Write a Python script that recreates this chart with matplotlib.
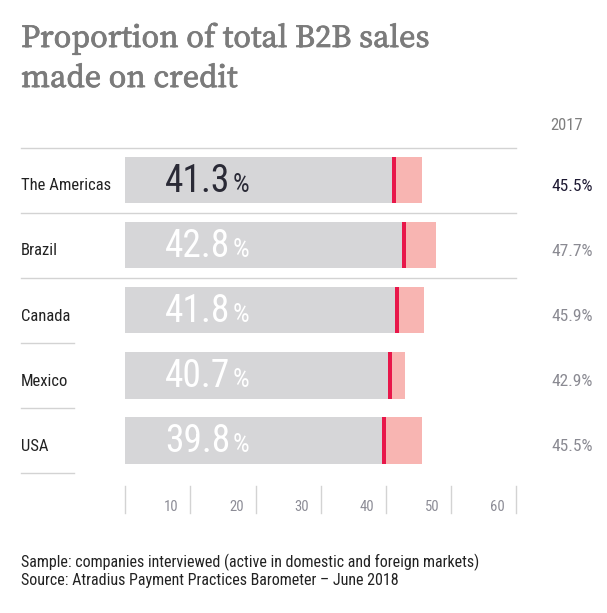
import matplotlib
matplotlib.use("Agg")
import matplotlib.pyplot as plt
import matplotlib.patheffects as pe

# data
regions = ['The Americas', 'Brazil', 'Canada', 'Mexico', 'USA']
share_2018 = [41.3, 42.8, 41.8, 40.7, 39.8]
share_2017 = [45.5, 47.7, 45.9, 42.9, 45.5]
ticks = [10, 20, 30, 40, 50, 60]

narrow = ['Roboto Condensed', 'DejaVu Sans']
serif = ['Source Serif 4', 'Noto Serif', 'DejaVu Serif']

gray_bar = '#d6d6d8'
pink = '#f8b5b2'
red = '#e8174a'
line_col = '#d3d3d3'
dark = '#1e1a33'
mid = '#8a8a92'

W, H = 607, 613
fig = plt.figure(figsize=(W / 100, H / 100), dpi=100)

def fx(px):
    return px / W

def fy(py):
    return 1 - py / H

# title
for txt, base in [('Proportion of total B2B sales', 47), ('made on credit', 87)]:
    fig.text(fx(21), fy(base), txt, family=serif, fontsize=23.2, color='#7b7b7b',
             va='baseline', ha='left',
             path_effects=[pe.withStroke(linewidth=0.5, foreground='#7b7b7b')])

# footer
fig.text(fx(21), fy(562), 'Sample: companies interviewed (active in domestic and foreign markets)',
         family=narrow, fontsize=11.5, color='#222222', va='center')
fig.text(fx(21), fy(581), 'Source: Atradius Payment Practices Barometer \u2013 June 2018',
         family=narrow, fontsize=11.5, color='#222222', va='center')

ax = fig.add_axes([fx(125.3), fy(518.5), 391 / W, (518.5 - 147.5) / H])
ax.set_xlim(0, 60)
ax.set_ylim(5.2, -0.5)
ax.axis('off')

y = list(range(len(regions)))
bh = 0.714
ax.barh(y, share_2017, height=bh, color=pink, zorder=1)
ax.barh(y, share_2018, height=bh, color=gray_bar, zorder=2)
ax.barh(y, [0.6] * len(y), left=[v - 0.35 for v in share_2018], height=bh, color=red, zorder=3)

# row separators
for k in range(len(regions) + 1):
    x1 = 60 if k < 3 else -7.85
    ax.plot([-16, x1], [k - 0.5, k - 0.5], color=line_col, lw=1, clip_on=False, zorder=0)

# bottom scale
for t in [0] + ticks:
    ax.plot([t, t], [4.70, 5.11], color=line_col, lw=1, clip_on=False)
for t in ticks:
    ax.text(t - 2.95, 5.02, str(t), ha='center', va='center', family=narrow,
            fontsize=10.5, color='#8c8c96')

ax.text(67.7, -0.845, '2017', ha='center', va='center', family=narrow, fontsize=12, color='#7f7f7f')

fig.canvas.draw()
for i, (name, v18, v17) in enumerate(zip(regions, share_2018, share_2017)):
    c_in = '#2a2a36' if i == 0 else 'white'
    ax.text(-16, i + 0.09, name, ha='left', va='center', family=narrow, fontsize=12,
            color='#222222', clip_on=False)
    t = ax.text(6.09, i + 0.18, f'{v18:.1f}', ha='left', va='baseline', family=narrow,
                fontsize=27, color=c_in, zorder=4)
    fig.canvas.draw()
    bb = t.get_window_extent()
    xe = ax.transData.inverted().transform((bb.x1, 0))[0]
    ax.text(xe + 0.35, i + 0.18, '%', ha='left', va='baseline', family=narrow,
            fontsize=19, color=c_in, zorder=4)
    ax.text(68.5, i + 0.1, f'{v17:.1f}%', ha='center', va='center', family=narrow,
            fontsize=12.5, color=dark if i == 0 else mid, clip_on=False)

fig.savefig('out.png', dpi=100)
